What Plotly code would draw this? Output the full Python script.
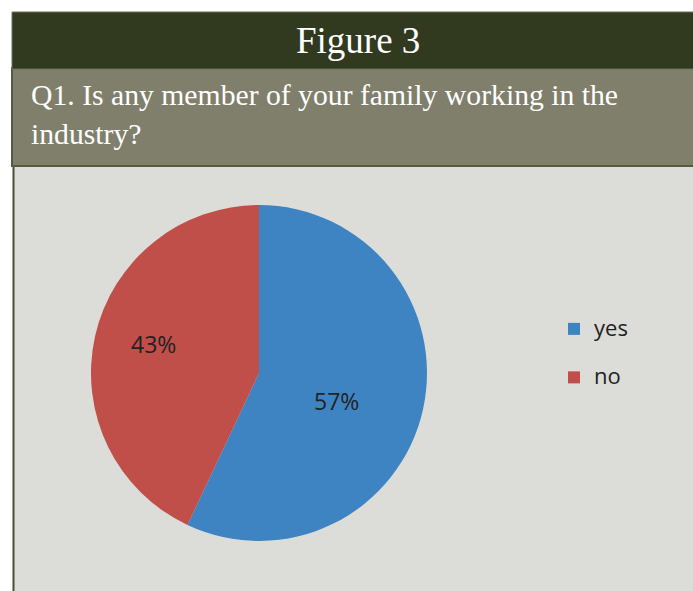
import plotly.graph_objects as go

# Survey answers (percent of respondents)
answers = ["yes", "no"]
shares = [57, 43]
slice_colors = ["#3F84C2", "#C04E49"]

title_text = "Figure 3"
question_text = "Q1. Is any member of your family working in the<br>industry?"

# where the percentage labels sit inside their slices (pixels)
label_pos = [(336.5, 401.5), (153.5, 343.5)]

W, H = 693, 591


def fx(px):
    return px / W


def fy(py):
    return 1 - py / H


# legend entries get a blank second line so the items sit further apart
legend_names = ["<span style='font-size:22px'>%s</span><br> " % a for a in answers]

fig = go.Figure()

fig.add_trace(go.Pie(
    labels=legend_names,
    values=shares,
    customdata=answers,
    hovertemplate="%{customdata}: %{percent}<extra></extra>",
    marker=dict(colors=slice_colors, line=dict(width=0)),
    sort=False,
    direction="clockwise",
    rotation=0,
    textinfo="none",
    domain=dict(x=[fx(91), fx(427)], y=[fy(541), fy(205)]),
))

shapes = [
    # light plot panel
    dict(type="rect", x0=fx(13), x1=fx(694), y0=fy(592), y1=fy(165),
         fillcolor="#DCDDD8", line=dict(width=0), layer="below"),
    # left border of panel
    dict(type="line", x0=fx(13.5), x1=fx(13.5), y0=fy(592), y1=fy(165),
         line=dict(color="#4B4E35", width=2), layer="below"),
    # question bar
    dict(type="rect", x0=fx(12), x1=fx(694), y0=fy(166), y1=fy(68),
         fillcolor="#7F7F6C", line=dict(color="#565A40", width=2), layer="below"),
    # header bar
    dict(type="rect", x0=fx(12), x1=fx(694), y0=fy(69), y1=fy(12),
         fillcolor="#31391F", line=dict(color="#6E725D", width=1), layer="below"),
]

total = sum(shares)
annotations = [
    dict(text=title_text, x=fx(358), y=fy(40), xref="paper", yref="paper",
         xanchor="center", yanchor="middle", showarrow=False,
         font=dict(family="Liberation Serif", size=37, color="#FFFFFF")),
    dict(text=question_text, x=fx(29), y=fy(114), xref="paper", yref="paper",
         xanchor="left", yanchor="middle", align="left", showarrow=False,
         font=dict(family="Liberation Serif", size=29.7, color="#FFFFFF")),
]

# percentage labels, worked out from the slice values
for v, (px, py) in zip(shares, label_pos):
    annotations.append(dict(
        text="%d%%" % round(100 * v / total), x=fx(px), y=fy(py),
        xref="paper", yref="paper", xanchor="center", yanchor="middle",
        showarrow=False,
        font=dict(family="Open Sans", size=23, color="#222222"),
    ))

fig.update_layout(
    width=W,
    height=H,
    margin=dict(l=0, r=0, t=0, b=0),
    paper_bgcolor="#FFFFFF",
    plot_bgcolor="#FFFFFF",
    shapes=shapes,
    annotations=annotations,
    showlegend=True,
    legend=dict(
        x=fx(554), y=fy(311), xanchor="left", yanchor="top",
        valign="top",
        bgcolor="rgba(0,0,0,0)",
        font=dict(family="Open Sans", size=17.5, color="#222222"),
    ),
)

fig.write_html("out.html")
